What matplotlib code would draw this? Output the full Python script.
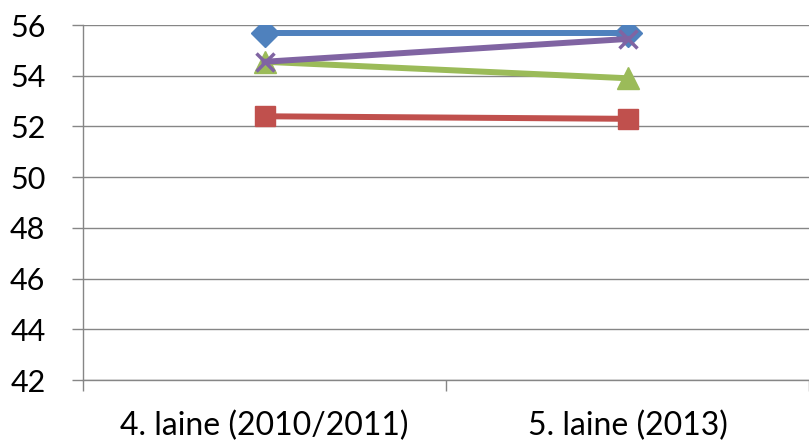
import numpy as np
import matplotlib
matplotlib.use('Agg')
import matplotlib.pyplot as plt

plt.rcParams['font.family'] = ['Lato', 'DejaVu Sans']

# survey rounds and mean scores
waves = ['4. laine (2010/2011)', '5. laine (2013)']
series_blue = [55.7, 55.7]
series_red = [52.4, 52.3]
series_green = [54.55, 53.9]
series_purple = [54.55, 55.45]

fig = plt.figure(figsize=(8.09, 4.45), dpi=100)
ax = fig.add_axes([83 / 809, 65 / 445, 726 / 809, 355 / 445])

x = np.arange(len(waves)) + 0.5
lw = 4.3
ax.plot(x, series_blue, color='#4F81BD', lw=lw, marker='D', ms=14.5,
        zorder=3)
ax.plot(x, series_red, color='#C0504D', lw=lw, marker='s', ms=14.5,
        zorder=3)
ax.plot(x, series_green, color='#9BBB59', lw=lw, marker='^', ms=15.5,
        zorder=3)
ax.plot(x, series_purple, color='#8064A2', lw=lw, marker='x', ms=13,
        mew=2.5, zorder=4)

ax.set_xlim(0, 2)
ax.set_ylim(42, 56)
ax.set_yticks(np.arange(42, 57, 2))
ax.set_xticks([0, 1, 2])
ax.set_xticklabels([])
ax.set_xticks(x, minor=True)
ax.set_xticklabels(waves, minor=True)
ax.tick_params(axis='x', which='minor', length=0, pad=22, labelsize=23)
ax.tick_params(axis='x', which='major', length=8, width=1,
               color='#868686', direction='out')
ax.tick_params(axis='y', length=8, width=1, color='#868686', pad=19,
               labelsize=22)

ax.grid(axis='y', color='#868686', lw=1)
ax.set_axisbelow(True)
for s in ['top', 'right']:
    ax.spines[s].set_visible(False)
for s in ['left', 'bottom']:
    ax.spines[s].set_color('#868686')
    ax.spines[s].set_linewidth(1)

fig.savefig('out.png', dpi=100)
